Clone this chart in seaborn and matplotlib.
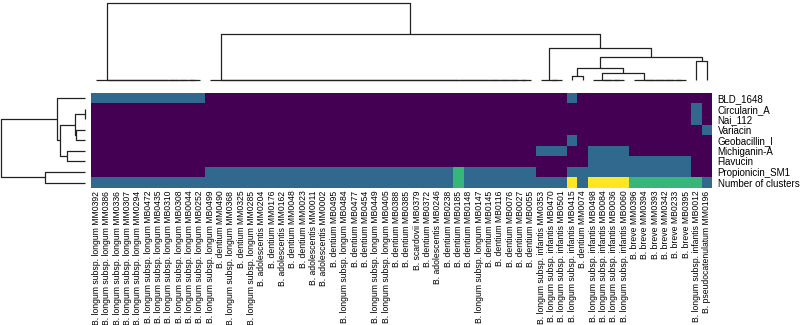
import numpy as np
import pandas as pd
import matplotlib
matplotlib.use("Agg")
import matplotlib.pyplot as plt
import seaborn as sns

plt.rcParams["font.family"] = ["Liberation Sans", "DejaVu Sans"]

strains = [
    "B. longum subsp. longum MM0392", "B. longum subsp. longum MM0386",
    "B. longum subsp. longum MM0336", "B. longum subsp. longum MM0307",
    "B. longum subsp. longum MM0294", "B. longum subsp. longum MB0472",
    "B. longum subsp. longum MB0435", "B. longum subsp. longum MB0310",
    "B. longum subsp. longum MB0308", "B. longum subsp. longum MB0044",
    "B. longum subsp. longum MB0252", "B. longum subsp. longum MB0499",
    "B. dentium MM0490", "B. longum subsp. longum MM0368",
    "B. dentium MM0325", "B. longum subsp. longum MM0285",
    "B. adolescentis MM0204", "B. dentium MM0176",
    "B. adolescentis MM0162", "B. dentium MM0048",
    "B. dentium MM0023", "B. adolescentis MM0011",
    "B. adolescentis MM0002", "B. dentium MB0495",
    "B. longum subsp. longum MB0484", "B. dentium MB0477",
    "B. dentium MB0454", "B. longum subsp. longum MB0449",
    "B. longum subsp. longum MB0405", "B. dentium MB0388",
    "B. dentium MB0385", "B. scardovii MB0379",
    "B. dentium MB0372", "B. adolescentis MB0246",
    "B. dentium MB0238", "B. dentium MB0185",
    "B. dentium MB0148", "B. longum subsp. longum MB0147",
    "B. dentium MB0145", "B. dentium MB0116",
    "B. dentium MB0076", "B. dentium MB0027",
    "B. dentium MB0055", "B. longum subsp. infantis MM0353",
    "B. longum subsp. infantis MB0470", "B. longum subsp. infantis MB0501",
    "B. longum subsp. infantis MB0415", "B. dentium MM0074",
    "B. longum subsp. infantis MB0498", "B. longum subsp. infantis MB0084",
    "B. longum subsp. infantis MB0036", "B. longum subsp. infantis MB0060",
    "B. breve MM0396", "B. breve MM0394",
    "B. breve MM0393", "B. breve MM0342",
    "B. breve MB0233", "B. breve MB0395",
    "B. longum subsp. infantis MB0012", "B. pseudocatenulatum MM0196",
]

bacteriocins = [
    "BLD_1648", "Circularin_A", "Nai_112", "Variacin", "Geobacillin_I",
    "Michiganin-A", "Flavucin", "Propionicin_SM1", "Number of clusters",
]

# cluster counts per strain, one list per bacteriocin (same order as strains)
bld_1648 = [1] * 11 + [0] * 35 + [1] + [0] * 13
circularin_a = [0] * 58 + [1, 0]
nai_112 = [0] * 58 + [1, 0]
variacin = [0] * 59 + [1]
geobacillin_i = [0] * 46 + [1] + [0] * 13
michiganin_a = [0] * 43 + [1, 1, 1, 0, 0, 1, 1, 1, 1] + [0] * 8
flavucin = [0] * 48 + [1] * 10 + [0, 0]
propionicin_sm1 = ([0] * 11 + [1] * 24 + [2] + [1] * 7 + [0, 0, 0, 1, 1]
                   + [1] * 10 + [0, 0])
n_clusters = ([1] * 35 + [2] + [1] * 7 + [1, 1, 1, 3, 1]
              + [3] * 4 + [2] * 6 + [2, 1])

# strain tree: (height, left, right),
# leaf groups are index ranges that join at zero height
strain_tree = (1.0, range(0, 11),
               (0.59, range(11, 43),
                (0.41, range(43, 46),
                 (0.30,
                  (0.155, (0.05, [46], [47]),
                   (0.084, range(48, 52), range(52, 58))),
                  (0.24, [58], [59])))))


def build_linkage(tree, n):
    """Turn a nested (height, left, right) tree into a scipy linkage matrix."""
    rows = []

    def walk(node):
        if not isinstance(node, tuple):
            leaves = list(node)
            cur, size = leaves[-1], 1
            for leaf in reversed(leaves[:-1]):
                rows.append([leaf, cur, 0.0, size + 1])
                cur, size = n + len(rows) - 1, size + 1
            return cur, size
        h, left, right = node
        li, ls = walk(left)
        ri, rs = walk(right)
        rows.append([li, ri, h, ls + rs])
        return n + len(rows) - 1, ls + rs

    walk(tree)
    return np.array(rows, dtype=float)


df = pd.DataFrame(
    [bld_1648, circularin_a, nai_112, variacin, geobacillin_i,
     michiganin_a, flavucin, propionicin_sm1, n_clusters],
    index=bacteriocins, columns=strains,
)

col_link = build_linkage(strain_tree, len(strains))

g = sns.clustermap(
    df,
    method="ward",
    col_linkage=col_link,
    cmap="viridis",
    vmin=0, vmax=3,
    figsize=(8, 3.25),
    xticklabels=True,
    yticklabels=True,
    cbar_pos=None,
    tree_kws={"linewidths": 0.9, "colors": "#222222", "clip_on": False},
)

# layout to match the reference
g.ax_heatmap.set_position([0.114, 0.422, 0.776, 0.292])
g.ax_col_dendrogram.set_position([0.114, 0.754, 0.776, 0.250])
g.ax_row_dendrogram.set_position([-0.004, 0.422, 0.110, 0.292])

g.ax_heatmap.set_xlabel("")
g.ax_heatmap.set_ylabel("")
g.ax_heatmap.tick_params(axis="x", length=0, pad=2)
g.ax_heatmap.tick_params(axis="y", length=0, pad=4)
plt.setp(g.ax_heatmap.get_xticklabels(), fontsize=6.2, rotation=90)
plt.setp(g.ax_heatmap.get_yticklabels(), fontsize=7, rotation=0)

g.fig.savefig("out.png", dpi=100)
